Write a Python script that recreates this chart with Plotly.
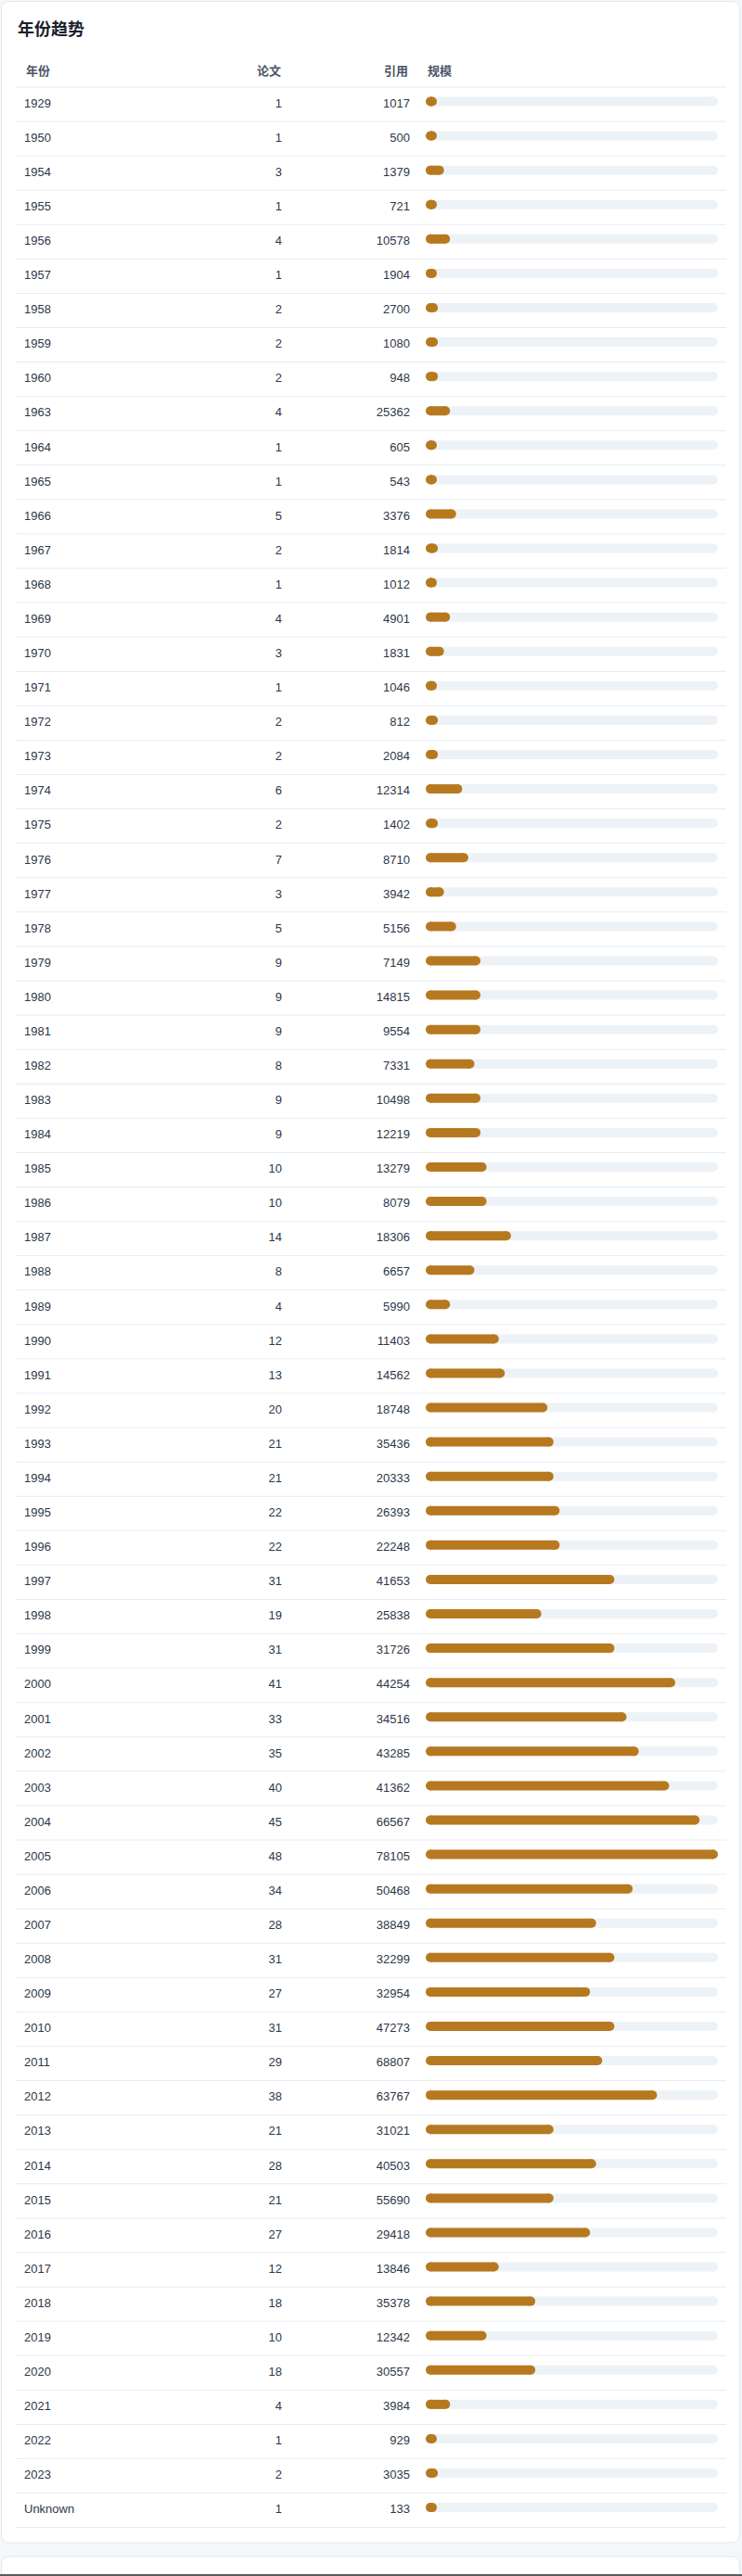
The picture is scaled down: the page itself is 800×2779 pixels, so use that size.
import plotly.graph_objects as go

# ---------------- data ----------------
years = ["1929", "1950", "1954", "1955", "1956", "1957", "1958", "1959", "1960", "1963",
         "1964", "1965", "1966", "1967", "1968", "1969", "1970", "1971", "1972", "1973",
         "1974", "1975", "1976", "1977", "1978", "1979", "1980", "1981", "1982", "1983",
         "1984", "1985", "1986", "1987", "1988", "1989", "1990", "1991", "1992", "1993",
         "1994", "1995", "1996", "1997", "1998", "1999", "2000", "2001", "2002", "2003",
         "2004", "2005", "2006", "2007", "2008", "2009", "2010", "2011", "2012", "2013",
         "2014", "2015", "2016", "2017", "2018", "2019", "2020", "2021", "2022", "2023",
         "Unknown"]
papers = [1, 1, 3, 1, 4, 1, 2, 2, 2, 4,
          1, 1, 5, 2, 1, 4, 3, 1, 2, 2,
          6, 2, 7, 3, 5, 9, 9, 9, 8, 9,
          9, 10, 10, 14, 8, 4, 12, 13, 20, 21,
          21, 22, 22, 31, 19, 31, 41, 33, 35, 40,
          45, 48, 34, 28, 31, 27, 31, 29, 38, 21,
          28, 21, 27, 12, 18, 10, 18, 4, 1, 2,
          1]
citations = [1017, 500, 1379, 721, 10578, 1904, 2700, 1080, 948, 25362,
             605, 543, 3376, 1814, 1012, 4901, 1831, 1046, 812, 2084,
             12314, 1402, 8710, 3942, 5156, 7149, 14815, 9554, 7331, 10498,
             12219, 13279, 8079, 18306, 6657, 5990, 11403, 14562, 18748, 35436,
             20333, 26393, 22248, 41653, 25838, 31726, 44254, 34516, 43285, 41362,
             66567, 78105, 50468, 38849, 32299, 32954, 47273, 68807, 63767, 31021,
             40503, 55690, 29418, 13846, 35378, 12342, 30557, 3984, 929, 3035,
             133]
title_text = "年份趋势"
headers = ["年份", "论文", "引用", "规模"]

# ---------------- layout constants ----------------
W, H = 800, 2779
ROW0 = 112.5          # pixel centre of first row
PITCH = 37.08         # row height in px
BAR_LIFT = 3.0        # bars sit slightly above text centre
TRACK_L, TRACK_R = 459, 774
BAR_H = 10
BAR_MIN_PX = 12
BAR_COLOR = "#b7791f"
TRACK_COLOR = "#edf2f7"
SEP_COLOR = "#e6ebf1"
TEXT_COLOR = "#2d3748"
HEAD_COLOR = "#4a5568"
FONT = "Liberation Sans, Arial, Noto Sans CJK SC, sans-serif"
CJK = "Noto Sans CJK SC, Liberation Sans, sans-serif"

n = len(years)
pmax = max(papers)
px_per_unit = (TRACK_R - TRACK_L) / pmax
r_units = (BAR_H / 2) / px_per_unit
min_units = BAR_MIN_PX / px_per_unit


def yrange(lift):
    top = -(ROW0 - lift) / PITCH
    return [top + H / PITCH, top]


fig = go.Figure()

# ---- text columns (subplot x / y) ----
fig.add_trace(go.Scatter(x=[26] * n, y=years, mode="text", text=years,
                         textposition="middle right",
                         textfont=dict(family=FONT, size=13, color=TEXT_COLOR),
                         hoverinfo="skip", showlegend=False, cliponaxis=False,
                         xaxis="x", yaxis="y"))
fig.add_trace(go.Scatter(x=[304] * n, y=years, mode="text", text=[str(p) for p in papers],
                         textposition="middle left",
                         textfont=dict(family=FONT, size=13, color=TEXT_COLOR),
                         hoverinfo="skip", showlegend=False, cliponaxis=False,
                         xaxis="x", yaxis="y"))
fig.add_trace(go.Scatter(x=[442] * n, y=years, mode="text", text=[str(c) for c in citations],
                         textposition="middle left",
                         textfont=dict(family=FONT, size=13, color=TEXT_COLOR),
                         hoverinfo="skip", showlegend=False, cliponaxis=False,
                         xaxis="x", yaxis="y"))

# ---- bars (subplot x2 / y2) ----
def capsule_xy(values):
    xs, ys, mx, my = [], [], [], []
    for yv, v in zip(years, values):
        v = max(v, min_units)
        a, b = r_units, v - r_units
        xs += [a, b, None]
        ys += [yv, yv, None]
        mx += [a, b]
        my += [yv, yv]
    return xs, ys, mx, my

for vals, col in [([pmax] * n, TRACK_COLOR), (papers, BAR_COLOR)]:
    xs, ys, mx, my = capsule_xy(vals)
    fig.add_trace(go.Scatter(x=xs, y=ys, mode="lines",
                             line=dict(color=col, width=BAR_H),
                             hoverinfo="skip", showlegend=False, cliponaxis=False,
                             xaxis="x2", yaxis="y2"))
    fig.add_trace(go.Scatter(x=mx, y=my, mode="markers",
                             marker=dict(color=col, size=BAR_H, line=dict(width=0)),
                             hoverinfo="skip", showlegend=False, cliponaxis=False,
                             xaxis="x2", yaxis="y2"))

# ---------------- shapes ----------------
def rounded_rect(x0, y0, x1, y1, r):
    return (f"M {x0+r},{y0} L {x1-r},{y0} Q {x1},{y0} {x1},{y0+r} "
            f"L {x1},{y1-r} Q {x1},{y1} {x1-r},{y1} L {x0+r},{y1} "
            f"Q {x0},{y1} {x0},{y1-r} L {x0},{y0+r} Q {x0},{y0} {x0+r},{y0} Z")

shapes = [
    dict(type="path", path=rounded_rect(1.5, 1.5, 797.5, 2743, 9), xref="x", yref="y3",
         fillcolor="white", line=dict(color="#e2e8f0", width=1), layer="below"),
    dict(type="path", path=rounded_rect(1.5, 2758, 797.5, 2830, 9), xref="x", yref="y3",
         fillcolor="white", line=dict(color="#e2e8f0", width=1), layer="below"),
]
for i in range(n + 1):
    shapes.append(dict(type="line", xref="x", yref="y", x0=17, x1=783,
                       y0=i - 0.5, y1=i - 0.5,
                       line=dict(color=SEP_COLOR, width=1), layer="below"))
shapes.append(dict(type="line", xref="x", yref="y3", x0=0, x1=800, y0=2778, y1=2778,
                   line=dict(color="#5b5b5b", width=2)))

# ---------------- annotations ----------------
annotations = [
    dict(text=f"<b>{title_text}</b>", x=17, y=30, xref="x", yref="y3",
         xanchor="left", yanchor="middle", showarrow=False,
         font=dict(family=CJK, size=18, color="#1a202c")),
]
head_pos = [(26, "left"), (305, "right"), (442, "right"), (459, "left")]
for txt, (hx, anc) in zip(headers, head_pos):
    annotations.append(dict(text=f"<b>{txt}</b>", x=hx, y=75.5, xref="x", yref="y3",
                            xanchor=anc, yanchor="middle", showarrow=False,
                            font=dict(family=CJK, size=13, color=HEAD_COLOR)))

hidden = dict(visible=False, showgrid=False, zeroline=False, fixedrange=True)
fig.update_layout(
    width=W, height=H,
    margin=dict(l=0, r=0, t=0, b=0),
    paper_bgcolor="#f4f6fa",
    plot_bgcolor="rgba(0,0,0,0)",
    xaxis=dict(hidden, range=[0, W], domain=[0, 1], anchor="y"),
    yaxis=dict(hidden, type="category", categoryorder="array", categoryarray=years,
               range=yrange(0), domain=[0, 1], anchor="x"),
    xaxis2=dict(hidden, range=[0, pmax], domain=[TRACK_L / W, TRACK_R / W], anchor="y2"),
    yaxis2=dict(hidden, type="category", categoryorder="array", categoryarray=years,
                range=yrange(BAR_LIFT), domain=[0, 1], anchor="x2"),
    yaxis3=dict(hidden, range=[H, 0], domain=[0, 1], anchor="x", overlaying="y"),
    shapes=shapes,
    annotations=annotations,
    showlegend=False,
)

fig.write_html("out.html", config={"displayModeBar": False},
               post_script="document.body.style.margin='0';document.body.style.overflow='hidden';")
